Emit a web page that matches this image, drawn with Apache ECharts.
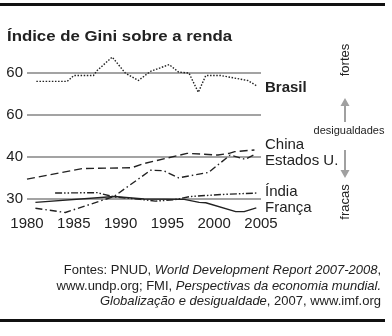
<!DOCTYPE html>
<html><head><meta charset="utf-8">
<script src="https://cdn.jsdelivr.net/npm/echarts@6/dist/echarts.min.js"></script>
<style>html,body{margin:0;padding:0;background:#fff}#c{width:392px;height:336px}</style>
</head><body><div id="c"></div>
<script>
const xTicks = [1980, 1985, 1990, 1995, 2000, 2005];
const brasilYears = [1981.0,1984.3,1985.0,1987.1,1987.5,1988.4,1989.1,1990.5,1991.9,1993.2,1995.2,1996.2,1997.3,1998.3,1999.1,2000.7,2003.6,2004.5];
const brasilGini  = [58.0,58.0,59.4,59.4,60.6,62.4,63.8,60.0,58.2,60.4,62.0,60.2,60.0,55.4,59.4,59.4,58.2,57.0];
const usaYears = [1980.0,1985.9,1991.2,1992.5,1997.1,2000.4,2001.6,2002.2,2004.3];
const usaGini  = [34.7,37.2,37.4,38.4,40.8,40.4,40.8,41.2,41.6];
const chinaYears = [1980.9,1984.1,1989.3,1993.2,1994.6,1996.2,1999.4,2001.7,2003.3,2004.4];
const chinaGini  = [27.8,26.8,30.6,36.8,36.7,35.0,36.3,40.4,39.4,40.6];
const indiaYears = [1983.0,1987.5,1989.3,1992.1,1993.7,1995.7,1997.5,2001.1,2004.5];
const indiaGini  = [31.4,31.5,30.5,29.9,29.5,29.8,30.6,31.1,31.4];
const franceYears = [1980.9,1989.3,1992.5,1996.8,1998.4,1999.1,2002.3,2003.2,2004.5];
const franceGini  = [29.2,30.6,30.0,29.9,29.2,29.1,27.0,27.0,27.9];

const pairs = (xs, ys) => xs.map((x, i) => [x, ys[i]]);
const FONT = '"Liberation Sans", Arial, sans-serif';
const GRID = '#a3a3a3';
const INK = '#222';
const ARROW = '#a0a0a0';

const chart = echarts.init(document.getElementById('c'), null, {renderer: 'canvas'});
const lineSeries = (name, xs, ys, type, idx) => ({
  name, type: 'line', xAxisIndex: idx, yAxisIndex: idx, data: pairs(xs, ys),
  symbol: 'none', silent: true, animation: false,
  lineStyle: {color: INK, width: 1.4, type}
});
const xAxisCommon = {
  type: 'value', min: 1980, max: 2005, interval: 5,
  axisLine: {show: false}, axisTick: {show: false}, splitLine: {show: false}
};
chart.setOption({
  animation: false,
  backgroundColor: '#fff',
  grid: [
    {left: 27, width: 234, top: 31, height: 84},
    {left: 27, width: 234, top: 114.5, height: 105.6}
  ],
  xAxis: [
    Object.assign({gridIndex: 0, axisLabel: {show: false}}, xAxisCommon),
    Object.assign({gridIndex: 1, axisLabel: {show: true, color: INK, fontFamily: FONT, fontSize: 15,
      verticalAlign: 'middle', margin: 4, formatter: v => xTicks.includes(v) ? String(v) : ''}}, xAxisCommon)
  ],
  yAxis: [
    {gridIndex: 0, type: 'value', min: 50, max: 70, interval: 10,
     axisLine: {show: false}, axisTick: {show: false},
     axisLabel: {color: INK, fontFamily: FONT, fontSize: 15, margin: 4, formatter: v => v === 60 ? '60' : ''},
     splitLine: {show: true, lineStyle: {color: ['rgba(0,0,0,0)', GRID, 'rgba(0,0,0,0)'], width: 2}}},
    {gridIndex: 1, type: 'value', min: 25, max: 50, interval: 5,
     axisLine: {show: false}, axisTick: {show: false},
     axisLabel: {color: INK, fontFamily: FONT, fontSize: 15, margin: 4,
       formatter: v => v === 50 ? '60' : (v === 40 || v === 30 ? String(v) : '')},
     splitLine: {show: true, lineStyle: {color: ['rgba(0,0,0,0)', GRID, 'rgba(0,0,0,0)', GRID, 'rgba(0,0,0,0)', GRID], width: 2}}}
  ],
  series: [
    lineSeries('Brasil', brasilYears, brasilGini, [1.5, 1.6], 0),
    lineSeries('Estados U.', usaYears, usaGini, [8, 4], 1),
    lineSeries('China', chinaYears, chinaGini, [7, 3, 1.5, 3], 1),
    lineSeries('Índia', indiaYears, indiaGini, [7, 2, 1.5, 2, 1.5, 2], 1),
    lineSeries('França', franceYears, franceGini, 'solid', 1)
  ],
  graphic: [
    {type: 'rect', shape: {x: 0, y: 3, width: 385, height: 3}, style: {fill: '#111'}, silent: true},
    {type: 'rect', shape: {x: 0, y: 319, width: 385, height: 3}, style: {fill: '#111'}, silent: true},
    {type: 'text', x: 7, y: 37, scaleX: 1.2, style: {text: 'Índice de Gini sobre a renda', font: 'bold 14px ' + FONT, fill: INK, verticalAlign: 'middle'}},
    {type: 'text', x: 265, y: 88, style: {text: 'Brasil', font: 'bold 15px ' + FONT, fill: INK, verticalAlign: 'middle'}},
    {type: 'text', x: 265, y: 145, style: {text: 'China', font: '15px ' + FONT, fill: INK, verticalAlign: 'middle'}},
    {type: 'text', x: 265, y: 161, style: {text: 'Estados U.', font: '15px ' + FONT, fill: INK, verticalAlign: 'middle'}},
    {type: 'text', x: 265, y: 192, style: {text: 'Índia', font: '15px ' + FONT, fill: INK, verticalAlign: 'middle'}},
    {type: 'text', x: 265, y: 208, style: {text: 'França', font: '15px ' + FONT, fill: INK, verticalAlign: 'middle'}},
    {type: 'text', x: 345, y: 60, rotation: Math.PI / 2, style: {text: 'fortes', font: '13px ' + FONT, fill: INK, align: 'center', verticalAlign: 'middle'}},
    {type: 'text', x: 345, y: 202, rotation: Math.PI / 2, style: {text: 'fracas', font: '13px ' + FONT, fill: INK, align: 'center', verticalAlign: 'middle'}},
    {type: 'text', x: 349, y: 131, style: {text: 'desigualdades', font: '11px ' + FONT, fill: INK, align: 'center', verticalAlign: 'middle'}},
    {type: 'line', shape: {x1: 345, y1: 122, x2: 345, y2: 105}, style: {stroke: ARROW, lineWidth: 2}},
    {type: 'polygon', shape: {points: [[345, 98], [340.5, 106], [349.5, 106]]}, style: {fill: ARROW}},
    {type: 'line', shape: {x1: 345, y1: 150, x2: 345, y2: 171}, style: {stroke: ARROW, lineWidth: 2}},
    {type: 'polygon', shape: {points: [[345, 178], [340.5, 170], [349.5, 170]]}, style: {fill: ARROW}},
    {type: 'text', x: 381, y: 263, style: {
      text: '{n|Fontes: PNUD, }{i|World Development Report 2007-2008}{n|,}\n{n|www.undp.org; FMI, }{i|Perspectivas da economia mundial.}\n{i|Globalização e desigualdade}{n|, 2007, www.imf.org}',
      align: 'right', verticalAlign: 'top', fill: INK, font: '13px ' + FONT, lineHeight: 15.5,
      rich: {
        n: {fontFamily: FONT, fontSize: 13, fontStyle: 'normal', fill: INK, lineHeight: 15.5},
        i: {fontFamily: FONT, fontSize: 13, fontStyle: 'italic', fill: INK, lineHeight: 15.5}
      }}}
  ]
});
</script></body></html>
